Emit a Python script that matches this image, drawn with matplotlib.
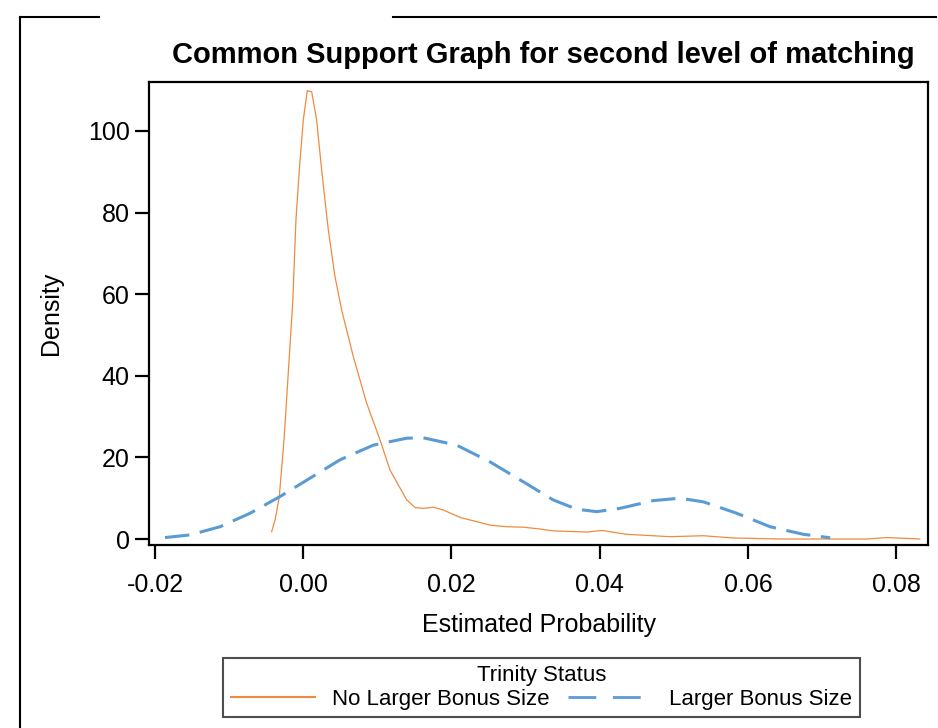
import matplotlib.pyplot as plt
from matplotlib.lines import Line2D

plt.rcParams['font.family'] = ['Liberation Sans', 'DejaVu Sans']

# density estimates
no_bonus_x = [-0.00427, -0.0038, -0.00324, -0.0026, -0.0020, -0.00143, -0.00099, -0.00054,
              0.0, 0.00054, 0.00113, 0.0018, 0.00248, 0.00338, 0.00428, 0.00518, 0.00675,
              0.00855, 0.01035, 0.0117, 0.01395, 0.0151, 0.0162, 0.01754, 0.0189, 0.02115,
              0.0252, 0.02745, 0.0297, 0.0319, 0.0337, 0.03825, 0.0403, 0.0436, 0.0495,
              0.054, 0.058, 0.0643, 0.076, 0.0787, 0.0832]
no_bonus_y = [1.8, 4.7, 10.4, 24.3, 41.4, 57.8, 78.2, 90.4,
              102.7, 109.9, 109.6, 102.7, 90.4, 75.7, 64.3, 56.1, 44.7,
              33.3, 24.3, 16.9, 9.6, 7.7, 7.5, 7.8, 7.1, 5.3,
              3.4, 3.0, 2.9, 2.45, 2.0, 1.7, 2.1, 1.15, 0.57,
              0.8, 0.25, 0.0, 0.0, 0.35, 0.0]

bonus_x = [-0.01866, -0.0153, -0.01124, -0.0072, -0.00314, 0.0009, 0.00495, 0.00945,
           0.01395, 0.0162, 0.0207, 0.0252, 0.02925, 0.0337, 0.0369, 0.0396, 0.0427,
           0.0472, 0.0508, 0.054, 0.0585, 0.063, 0.0675, 0.0711]
bonus_y = [0.35, 1.0, 3.0, 6.3, 10.4, 14.9, 19.4, 23.0,
           24.7, 24.8, 23.0, 18.9, 14.5, 9.6, 7.3, 6.7, 7.5,
           9.4, 10.0, 9.1, 6.3, 3.0, 1.15, 0.3]

x_ticks = [-0.02, 0.0, 0.02, 0.04, 0.06, 0.08]
y_ticks = [0, 20, 40, 60, 80, 100]

ORANGE = '#EF8A3F'
BLUE = '#5B9BD5'

fig = plt.figure(figsize=(9.38, 7.28), dpi=100)
ax = fig.add_axes([149 / 938, 1 - 545 / 728, (928 - 149) / 938, (545 - 82) / 728])

ax.plot(no_bonus_x, no_bonus_y, color=ORANGE, lw=0.9, label='No Larger Bonus Size')
ax.plot(bonus_x, bonus_y, color=BLUE, lw=2.2, linestyle=(0, (8, 3.5)),
        label='Larger Bonus Size')

ax.set_xlim(-0.02082, 0.0843)
ax.set_ylim(-1.47, 112.0)
ax.set_xticks(x_ticks)
ax.set_xticklabels(['%.2f' % v for v in x_ticks])
ax.set_yticks(y_ticks)
ax.tick_params(direction='out', length=10, width=1.6, labelsize=18, pad=4)
ax.tick_params(axis='x', pad=10)
for s in ax.spines.values():
    s.set_linewidth(1.6)

ax.set_xlabel('Estimated Probability', fontsize=18, labelpad=12)
ax.set_ylabel('Density', fontsize=18, labelpad=18)
fig.text(543 / 938, 1 - 55 / 728, 'Common Support Graph for second level of matching',
         ha='center', va='center', fontsize=21, fontweight='bold')

leg = fig.legend(loc='center', bbox_to_anchor=(541.5 / 938, 1 - 687.5 / 728), ncol=2,
                 title='Trinity Status', fontsize=16, title_fontsize=16,
                 handlelength=3.8, handletextpad=0.75, columnspacing=0.85,
                 fancybox=False, edgecolor='#222222', borderpad=0.35, labelspacing=0.1,
                 borderaxespad=0)
leg.get_frame().set_linewidth(1.5)
leg_lines = leg.get_lines()
leg_lines[0].set_linewidth(1.5)
leg_lines[1].set_linewidth(2.0)
leg_lines[1].set_linestyle((0, (10, 6)))

# partial outer frame
fig.add_artist(Line2D([20 / 938, 20 / 938], [0, 1 - 17 / 728], color='black', lw=1.5))
fig.add_artist(Line2D([20 / 938, 99 / 938], [1 - 17 / 728, 1 - 17 / 728], color='black', lw=1.5))
fig.add_artist(Line2D([393 / 938, 936 / 938], [1 - 17 / 728, 1 - 17 / 728], color='black', lw=1.5))

fig.savefig('out.png', dpi=100)
